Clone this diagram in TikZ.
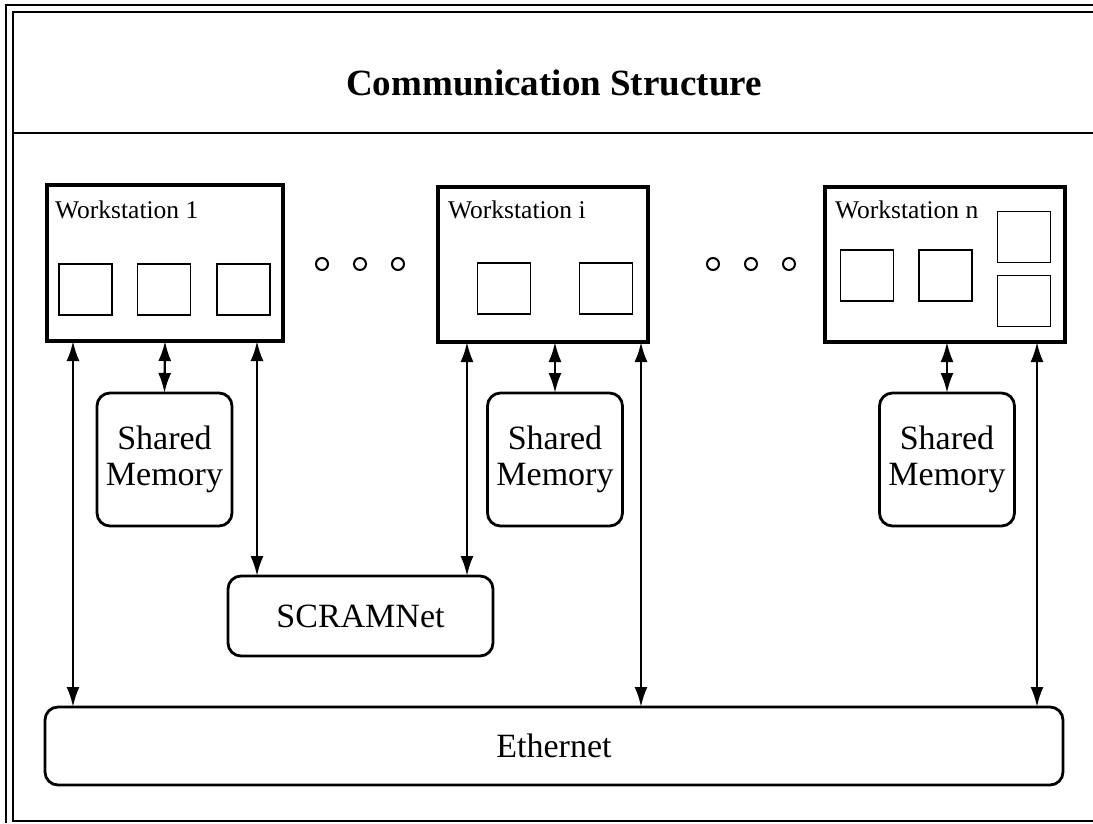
\documentclass[tikz,border=0pt]{standalone}
\usepackage{fontspec}
\setmainfont{Liberation Serif}
\usetikzlibrary{arrows.meta}
\begin{document}
\begin{tikzpicture}[x=1pt,y=-1pt,
  frame/.style={line width=1.6pt},
  wsbox/.style={draw,line width=3.8pt,inner sep=0pt,outer sep=0pt},
  cpu/.style={draw,line width=1.8pt,minimum width=53pt,minimum height=51pt,inner sep=0pt,outer sep=0pt},
  rbox/.style={draw,line width=2.8pt,rounded corners=13pt,inner sep=0pt,outer sep=0pt,align=center,font=\fontsize{34}{36}\selectfont},
  wslabel/.style={anchor=base west,inner sep=0pt,font=\fontsize{25.5}{27}\selectfont},
  dot/.style={draw,circle,line width=2pt,minimum size=12pt,inner sep=0pt},
  tip/.tip={Latex[length=20pt,width=13pt]},
  arr/.style={tip-tip,line width=2.4pt}]
\useasboundingbox (0,0) rectangle (1093,823);
% frame
\draw[frame] (6,823) -- (6,5) -- (1093,5);
\draw[frame] (1093,12) -- (13,12) -- (13,821) -- (1093,821);
\draw[frame] (13,133) -- (1093,133);
\node[font=\fontsize{37}{40}\selectfont\bfseries] (title) at (554,83) {Communication Structure};
% workstations
\node[wsbox,minimum width=236pt,minimum height=156pt] (ws1) at (165,263) {};
\node[wsbox,minimum width=210pt,minimum height=155pt] (wsi) at (543,264.5) {};
\node[wsbox,minimum width=240pt,minimum height=155pt] (wsn) at (945,264.5) {};
\node[wslabel] (l1) at (55,218) {Workstation 1};
\node[wslabel] (li) at (448,218) {Workstation i};
\node[wslabel] (ln) at (835,218) {Workstation n};
\node[cpu] (c11) at (85.5,289.5) {};
\node[cpu] (c12) at (164,289.5) {};
\node[cpu] (c13) at (243.5,289.5) {};
\node[cpu] (ci1) at (504,288.5) {};
\node[cpu] (ci2) at (606,288.5) {};
\node[cpu] (cn1) at (867,275.5) {};
\node[cpu] (cn2) at (945.5,275.5) {};
\node[cpu] (cn3) at (1024,237) {};
\node[cpu] (cn4) at (1024,301) {};
% dots
\node[dot] (d1) at (322,264) {};
\node[dot] (d2) at (360,264) {};
\node[dot] (d3) at (398,264) {};
\node[dot] (d4) at (713,264) {};
\node[dot] (d5) at (751,264) {};
\node[dot] (d6) at (789,264) {};
% shared memories
\node[rbox,minimum width=135pt,minimum height=133pt] (sm1) at (164.5,459.5) {Shared\\Memory};
\node[rbox,minimum width=135pt,minimum height=133pt] (smi) at (555,459.5) {Shared\\Memory};
\node[rbox,minimum width=135pt,minimum height=133pt] (smn) at (947,459.5) {Shared\\Memory};
% networks
\node[rbox,minimum width=265pt,minimum height=80pt] (scr) at (360.5,616) {SCRAMNet};
\node[rbox,minimum width=1018pt,minimum height=78pt] (eth) at (554,746) {Ethernet};
% arrow x positions
\coordinate (xa) at (73,0);
\coordinate (xb) at (257,0);
\coordinate (xc) at (467,0);
\coordinate (xd) at (641,0);
\coordinate (xe) at (1037,0);
\draw[arr] (ws1.south -| xa) -- (eth.north -| xa);
\draw[arr] (ws1.south) -- (sm1.north);
\draw[arr] (ws1.south -| xb) -- (scr.north -| xb);
\draw[arr] (wsi.south -| xc) -- (scr.north -| xc);
\draw[arr] (wsi.south -| smi.north) -- (smi.north);
\draw[arr] (wsi.south -| xd) -- (eth.north -| xd);
\draw[arr] (wsn.south -| smn.north) -- (smn.north);
\draw[arr] (wsn.south -| xe) -- (eth.north -| xe);
\end{tikzpicture}
\end{document}
